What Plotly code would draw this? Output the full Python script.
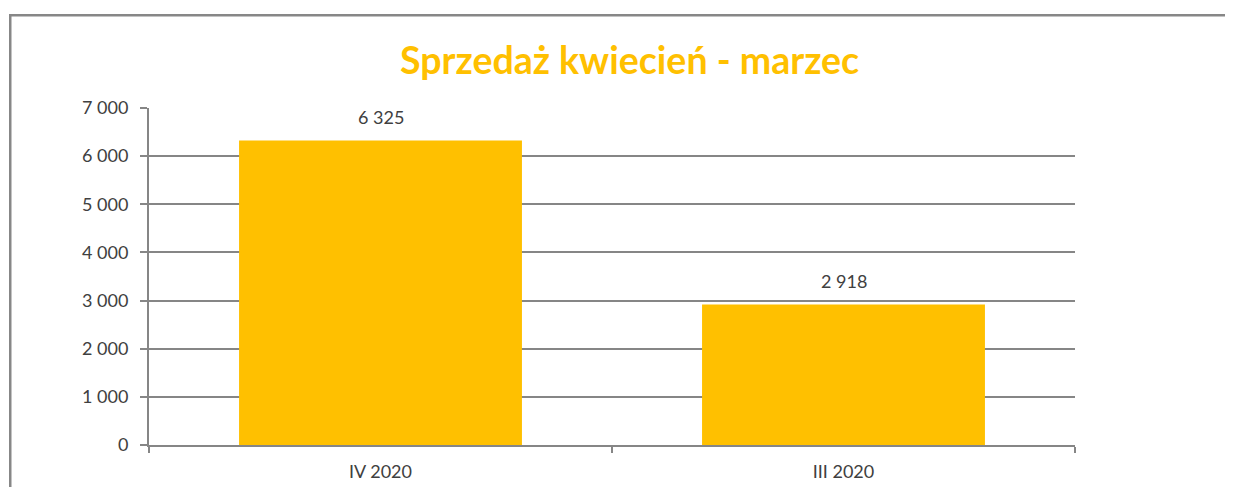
import plotly.graph_objects as go

categories = ["IV 2020", "III 2020"]
values = [6325, 2918]
tick_vals = [0, 1000, 2000, 3000, 4000, 5000, 6000, 7000]

BAR = "#FFC000"
GRID = "#868686"
TXT = "#404040"
FONT = "Lato"
BORDER = "#878787"

# reference pixel geometry of the plotting area
PL, PR, PT, PB = 149, 1075, 108, 445
PW, PH = PR - PL, PB - PT
OFF = 8  # page body offset
FW, FH = 1233 - OFF, 495 - 2 * OFF


def px(x):
    return (x - PL) / PW


def py(y):
    return (PB - y) / PH


fig = go.Figure()
fig.add_trace(go.Bar(x=categories, y=values, marker=dict(color=BAR, line=dict(width=0)),
                     width=0.611, hoverinfo="skip"))

for c, v in zip(categories, values):
    fig.add_annotation(x=c, y=v, text=f"{v:,}".replace(",", " "), showarrow=False,
                       yanchor="bottom", yshift=11,
                       font=dict(family=FONT, size=18, color=TXT))

fig.add_annotation(xref="paper", yref="paper", x=px(629), y=py(60),
                   text="<b>Sprzedaż kwiecień - marzec</b>", showarrow=False,
                   xanchor="center", yanchor="middle",
                   font=dict(family=FONT, size=37.5, color=BAR))

# chart-area border: left edge and top edge, drawn as thin filled strips
fig.add_shape(type="rect", xref="paper", yref="paper", x0=px(9), x1=px(11.5),
              y0=py(14), y1=py(600), line=dict(width=0), fillcolor=BORDER, layer="below")
fig.add_shape(type="rect", xref="paper", yref="paper", x0=px(9), x1=px(1233),
              y0=py(14), y1=py(16.5), line=dict(width=0), fillcolor=BORDER, layer="below")

fig.update_layout(
    width=FW, height=FH,
    margin=dict(l=PL - OFF, r=FW - PW - (PL - OFF), t=PT - OFF, b=FH - PH - (PT - OFF), pad=0,
                autoexpand=False),
    paper_bgcolor="white", plot_bgcolor="white",
    separators=", ",
    showlegend=False,
    bargap=0.389,
    xaxis=dict(type="category", tickson="boundaries", ticks="outside", ticklen=6,
               tickcolor=GRID, tickwidth=2, showline=True, linecolor=GRID, linewidth=2,
               showgrid=False, tickfont=dict(family=FONT, size=18, color=TXT),
               ticklabelstandoff=9, range=[-0.5, 1.5], fixedrange=True, automargin=False),
    yaxis=dict(range=[0, 7000], tickvals=tick_vals, tickformat=",d", ticks="outside",
               ticklen=7, tickcolor=GRID, tickwidth=2, showline=True, linecolor=GRID,
               linewidth=2, showgrid=True, gridcolor=GRID, gridwidth=2, zeroline=False,
               tickfont=dict(family=FONT, size=18, color=TXT), ticklabelstandoff=8,
               fixedrange=True, automargin=False),
)

fig.write_html("out.html")
